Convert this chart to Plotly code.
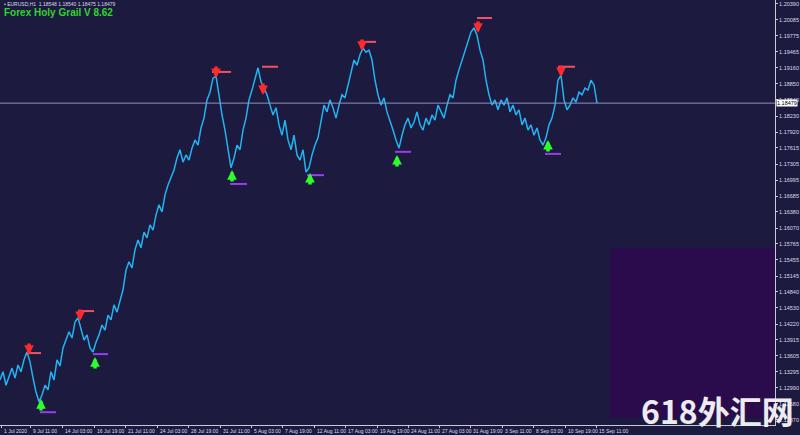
import plotly.graph_objects as go

# ---------------- data ----------------
close = [
    1.1314, 1.1330, 1.1304, 1.1322, 1.1337, 1.1318, 1.1343, 1.1330, 1.1353, 1.1368,
    1.1349, 1.1318, 1.1291, 1.1272, 1.1285, 1.1304, 1.1295, 1.1330, 1.1314, 1.1353,
    1.1341, 1.1376, 1.1391, 1.1407, 1.1395, 1.1426, 1.1434, 1.1410, 1.1391, 1.1401,
    1.1376, 1.1368, 1.1387, 1.1401, 1.1420, 1.1410, 1.1439, 1.1430, 1.1459, 1.1445,
    1.1468, 1.1488, 1.1526, 1.1542, 1.1530, 1.1565, 1.1584, 1.1569, 1.1599, 1.1588,
    1.1613, 1.1603, 1.1632, 1.1652, 1.1638, 1.1671, 1.1690, 1.1704, 1.1719, 1.1742,
    1.1758, 1.1734, 1.1748, 1.1738, 1.1761, 1.1777, 1.1767, 1.1800, 1.1819, 1.1854,
    1.1869, 1.1896, 1.1900, 1.1864, 1.1825, 1.1796, 1.1758, 1.1723, 1.1742, 1.1767,
    1.1758, 1.1796, 1.1819, 1.1854, 1.1873, 1.1896, 1.1916, 1.1889, 1.1877, 1.1864,
    1.1844, 1.1825, 1.1839, 1.1806, 1.1786, 1.1815, 1.1777, 1.1758, 1.1786, 1.1748,
    1.1738, 1.1758, 1.1715, 1.1723, 1.1748, 1.1767, 1.1781, 1.1815, 1.1844, 1.1831,
    1.1854, 1.1839, 1.1819, 1.1844, 1.1864, 1.1858, 1.1883, 1.1902, 1.1931, 1.1921,
    1.1941, 1.1954, 1.1946, 1.1950, 1.1931, 1.1892, 1.1864, 1.1844, 1.1858, 1.1831,
    1.1815, 1.1796, 1.1777, 1.1761, 1.1786, 1.1806, 1.1819, 1.1800, 1.1811, 1.1831,
    1.1806, 1.1796, 1.1819, 1.1806, 1.1825, 1.1815, 1.1844, 1.1831, 1.1819, 1.1844,
    1.1864, 1.1858, 1.1892, 1.1912, 1.1931, 1.1950, 1.1970, 1.1985, 1.1993, 1.1979,
    1.1950, 1.1931, 1.1892, 1.1864, 1.1844, 1.1854, 1.1835, 1.1854, 1.1844, 1.1858,
    1.1831, 1.1844, 1.1825, 1.1835, 1.1806, 1.1819, 1.1796, 1.1806, 1.1786, 1.1800,
    1.1777, 1.1767, 1.1781, 1.1806, 1.1819, 1.1844, 1.1892, 1.1902, 1.1854, 1.1835,
    1.1844, 1.1858, 1.1850, 1.1869, 1.1864, 1.1877, 1.1873, 1.1892, 1.1883, 1.1848,
]
bar_step = 6
bar = [bar_step * i for i in range(len(close))]

last_price = 1.18479

# sell signals: arrow tip bar / price, level line start-end bars / price
sell_arrow_bar = [58, 160, 432, 526, 724, 956, 1122]
sell_arrow_price = [1.13623, 1.14278, 1.18963, 1.18635, 1.19484, 1.19831, 1.18982]
sell_line_start = [54, 156, 424, 524, 720, 954, 1116]
sell_line_end = [82, 188, 462, 556, 752, 984, 1150]
sell_line_price = [1.1366, 1.1447, 1.1908, 1.1918, 1.1966, 1.2012, 1.1918]

# buy signals
buy_arrow_bar = [82, 190, 464, 620, 794, 1096]
buy_arrow_price = [1.12774, 1.13584, 1.17189, 1.17132, 1.17479, 1.17768]
buy_line_start = [80, 186, 460, 614, 790, 1090]
buy_line_end = [112, 216, 494, 648, 822, 1122]
buy_line_price = [1.1252, 1.1364, 1.1692, 1.1709, 1.1754, 1.1750]

price_ticks = [1.20390, 1.20085, 1.19775, 1.19465, 1.19160, 1.18850, 1.18540,
               1.18230, 1.17920, 1.17615, 1.17305, 1.16995, 1.16685, 1.16380,
               1.16070, 1.15765, 1.15455, 1.15145, 1.14840, 1.14530, 1.14220,
               1.13915, 1.13605, 1.13295, 1.12990, 1.12680, 1.12370]

time_labels = ["1 Jul 2020", "9 Jul 11:00", "14 Jul 03:00", "16 Jul 19:00",
               "21 Jul 11:00", "24 Jul 03:00", "28 Jul 19:00", "31 Jul 11:00",
               "5 Aug 03:00", "7 Aug 19:00", "12 Aug 11:00", "17 Aug 03:00",
               "19 Aug 19:00", "24 Aug 11:00", "27 Aug 03:00", "31 Aug 19:00",
               "3 Sep 11:00", "8 Sep 03:00", "10 Sep 19:00", "15 Sep 11:00"]
time_label_bars = [2, 60, 124, 188, 250, 314, 376, 440, 502, 564, 628, 690,
                   754, 816, 878, 940, 1004, 1066, 1130, 1192]

zone_bars = [1220, 1550]
zone_prices = [1.12408, 1.15686]

x_range = [0, 1550]
y_range = [1.12273, 1.20467]

# ---------------- styling ----------------
BG = "#1c1a3e"
LINE = "#22b4f2"
RED = "#ff2a2a"
REDLINE = "#f0506a"
GREEN = "#2cff2c"
PURPLE = "#9a3cf0"
TXT = "#dcdcec"

fig = go.Figure()

fig.add_trace(go.Scatter(x=bar, y=close, mode="lines",
                         line=dict(color=LINE, width=1.5), hoverinfo="skip"))

for s, e, p in zip(sell_line_start, sell_line_end, sell_line_price):
    fig.add_trace(go.Scatter(x=[s, e], y=[p, p], mode="lines",
                             line=dict(color=REDLINE, width=2), hoverinfo="skip"))
for s, e, p in zip(buy_line_start, buy_line_end, buy_line_price):
    fig.add_trace(go.Scatter(x=[s, e], y=[p, p], mode="lines",
                             line=dict(color=PURPLE, width=2), hoverinfo="skip"))

annotations = []
for b, p in zip(sell_arrow_bar, sell_arrow_price):
    annotations.append(dict(x=b, y=p, xref="x", yref="y", text="", showarrow=True,
                            ax=0, ay=-13, arrowcolor=RED, arrowwidth=3.5,
                            arrowhead=2, arrowsize=0.55, standoff=0))
for b, p in zip(buy_arrow_bar, buy_arrow_price):
    annotations.append(dict(x=b, y=p, xref="x", yref="y", text="", showarrow=True,
                            ax=0, ay=13, arrowcolor=GREEN, arrowwidth=3.5,
                            arrowhead=2, arrowsize=0.55, standoff=0))

for b, t in zip(time_label_bars, time_labels):
    annotations.append(dict(x=b, y=0, xref="x", yref="paper", text=t, showarrow=False,
                            xanchor="left", yanchor="top", yshift=-1, xshift=1,
                            font=dict(size=5, color=TXT, family="Liberation Sans")))

annotations.append(dict(x=1, y=last_price, xref="paper", yref="y", text="%.5f" % last_price,
                        showarrow=False, xanchor="left", yanchor="middle", xshift=1,
                        bgcolor="#ffffff", borderpad=0,
                        font=dict(size=5.5, color="#000000", family="Liberation Sans")))

annotations.append(dict(x=0, y=1, xref="paper", yref="paper",
                        text="• EURUSD,H1  1.18548 1.18540 1.18475 1.18479",
                        showarrow=False, xanchor="left", yanchor="top", xshift=2, yshift=1,
                        font=dict(size=5, color=TXT, family="Liberation Sans")))
annotations.append(dict(x=0, y=1, xref="paper", yref="paper",
                        text="<b>Forex Holy Grail V 8.62</b>",
                        showarrow=False, xanchor="left", yanchor="top", xshift=2, yshift=-5,
                        font=dict(size=10, color="#2ed62e", family="Liberation Sans Narrow, Liberation Sans")))

annotations.append(dict(x=1.027, y=0.035, xref="paper", yref="paper", text="<b>618外汇网</b>",
                        showarrow=False, xanchor="right", yanchor="middle",
                        font=dict(size=32, color="#ececf0", family="Noto Sans CJK SC")))

shapes = [
    dict(type="rect", xref="x", yref="y", x0=zone_bars[0], x1=zone_bars[1],
         y0=zone_prices[0], y1=zone_prices[1], fillcolor="#2a0c4c",
         line=dict(width=0), layer="below"),
    dict(type="line", xref="paper", yref="y", x0=0, x1=1, y0=last_price, y1=last_price,
         line=dict(color="#9494c4", width=1)),
]

fig.update_layout(
    width=800, height=435,
    margin=dict(l=0, r=25, t=0, b=10, autoexpand=False),
    paper_bgcolor=BG, plot_bgcolor=BG,
    showlegend=False,
    annotations=annotations, shapes=shapes,
    xaxis=dict(range=x_range, showgrid=False, zeroline=False, automargin=False,
               tickvals=time_label_bars, showticklabels=False,
               ticks="outside", ticklen=2, tickcolor="#c8c8d8",
               showline=True, linecolor="#c8c8d8", linewidth=1),
    yaxis=dict(range=y_range, side="right", showgrid=False, zeroline=False, automargin=False,
               tickvals=price_ticks, ticktext=["%.5f" % v for v in price_ticks],
               ticks="outside", ticklen=2, tickcolor="#c8c8d8",
               tickfont=dict(size=5.5, color=TXT, family="Liberation Sans"),
               showline=True, linecolor="#c8c8d8", linewidth=1, mirror=False),
)

fig.write_html("out.html", config={"displayModeBar": False},
               post_script="document.body.style.margin='0px';document.body.style.overflow='hidden';document.body.style.background='" + BG + "';")
